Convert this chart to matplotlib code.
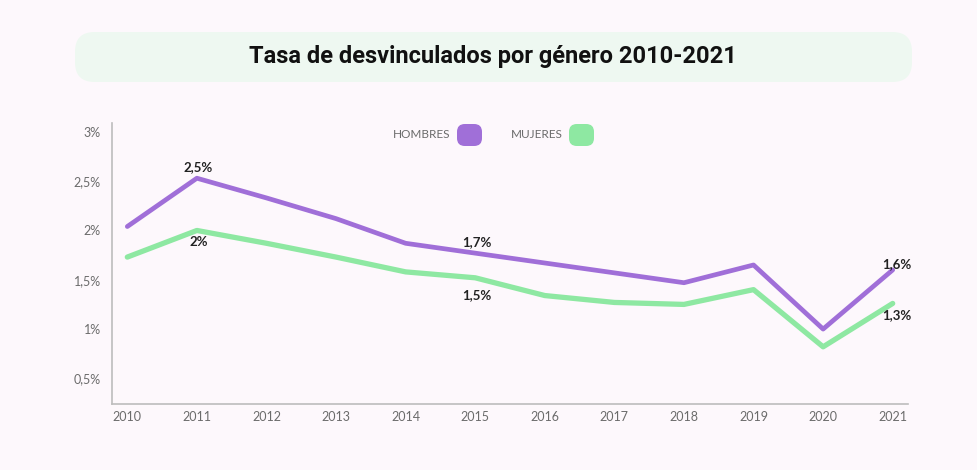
import matplotlib
matplotlib.use("Agg")
import matplotlib.pyplot as plt
from matplotlib.patches import FancyBboxPatch

years = [2010, 2011, 2012, 2013, 2014, 2015, 2016, 2017, 2018, 2019, 2020, 2021]
hombres = [2.04, 2.53, 2.33, 2.12, 1.87, 1.77, 1.67, 1.57, 1.47, 1.65, 1.00, 1.60]
mujeres = [1.73, 2.00, 1.87, 1.73, 1.58, 1.52, 1.34, 1.27, 1.25, 1.40, 0.82, 1.26]
ytick_vals = [0.5, 1.0, 1.5, 2.0, 2.5, 3.0]
ytick_labels = ["0,5%", "1%", "1,5%", "2%", "2,5%", "3%"]
title = "Tasa de desvinculados por género 2010-2021"
series_names = ["HOMBRES", "MUJERES"]
labels_h = [(1, "2,5%"), (5, "1,7%"), (11, "1,6%")]
labels_m = [(1, "2%"), (5, "1,5%"), (11, "1,3%")]

PURPLE = "#a06fd8"
GREEN = "#8ee8a2"
BG = "#fdf8fc"
GREY = "#6b6b6b"

fig = plt.figure(figsize=(9.77, 4.70), dpi=100, facecolor=BG)
ax = fig.add_axes([112/977, 1-404/470, (908-112)/977, (404-123)/470])
ax.set_facecolor(BG)

ax.plot(years, hombres, color=PURPLE, lw=3.4, solid_joinstyle="round", solid_capstyle="round", zorder=3)
ax.plot(years, mujeres, color=GREEN, lw=3.8, solid_joinstyle="round", solid_capstyle="round", zorder=3)

ax.set_xlim(2009.78, 2021.22)
ax.set_ylim(0.24, 3.09)
ax.set_xticks(years)
ax.set_xticklabels([str(y) for y in years])
ax.set_yticks(ytick_vals)
ax.set_yticklabels(ytick_labels)
ax.tick_params(axis="both", length=0, labelsize=9, labelcolor=GREY)
ax.tick_params(axis="y", pad=8)
ax.tick_params(axis="x", pad=5)
for lab in ax.get_xticklabels() + ax.get_yticklabels():
    lab.set_fontfamily("Lato")
for s in ["top", "right"]:
    ax.spines[s].set_visible(False)
for s in ["left", "bottom"]:
    ax.spines[s].set_color("#bdbdbd")
    ax.spines[s].set_linewidth(1.2)

h_offsets = [(1, 4), (1, 4), (3, 0)]
m_offsets = [(1, -4), (1, -8), (3, -4)]
for (i, t), off in zip(labels_h, h_offsets):
    ax.annotate(t, (years[i], hombres[i]), xytext=off, textcoords="offset points",
                ha="center", va="bottom", fontsize=9.5, fontweight="bold", color="#222222", family="Lato")
for (i, t), off in zip(labels_m, m_offsets):
    ax.annotate(t, (years[i], mujeres[i]), xytext=off, textcoords="offset points",
                ha="center", va="top", fontsize=9.5, fontweight="bold", color="#222222", family="Lato")

# title box
box = FancyBboxPatch((75/977, 1-82/470), (912-75)/977, 50/470,
                     boxstyle="round,pad=0,rounding_size=0.02", transform=fig.transFigure,
                     facecolor="#eef8f1", edgecolor="none", mutation_aspect=977/470)
fig.patches.append(box)
fig.text(493/977, 1-57/470, title, ha="center", va="center", fontsize=17,
         fontweight="bold", family="Roboto", color="#111111")

# legend
colors = [PURPLE, GREEN]
text_right = [450, 563]
sq_left = [457, 569]
for name, c, tr, sl in zip(series_names, colors, text_right, sq_left):
    fig.text(tr/977, 1-135/470, name, ha="right", va="center", fontsize=8.5,
             color=GREY, family="Lato")
    sq = FancyBboxPatch((sl/977, 1-146/470), 25/977, 22/470,
                        boxstyle="round,pad=0,rounding_size=0.008", transform=fig.transFigure,
                        facecolor=c, edgecolor="none", mutation_aspect=977/470)
    fig.patches.append(sq)

fig.savefig("out.png", dpi=100, facecolor=BG)
